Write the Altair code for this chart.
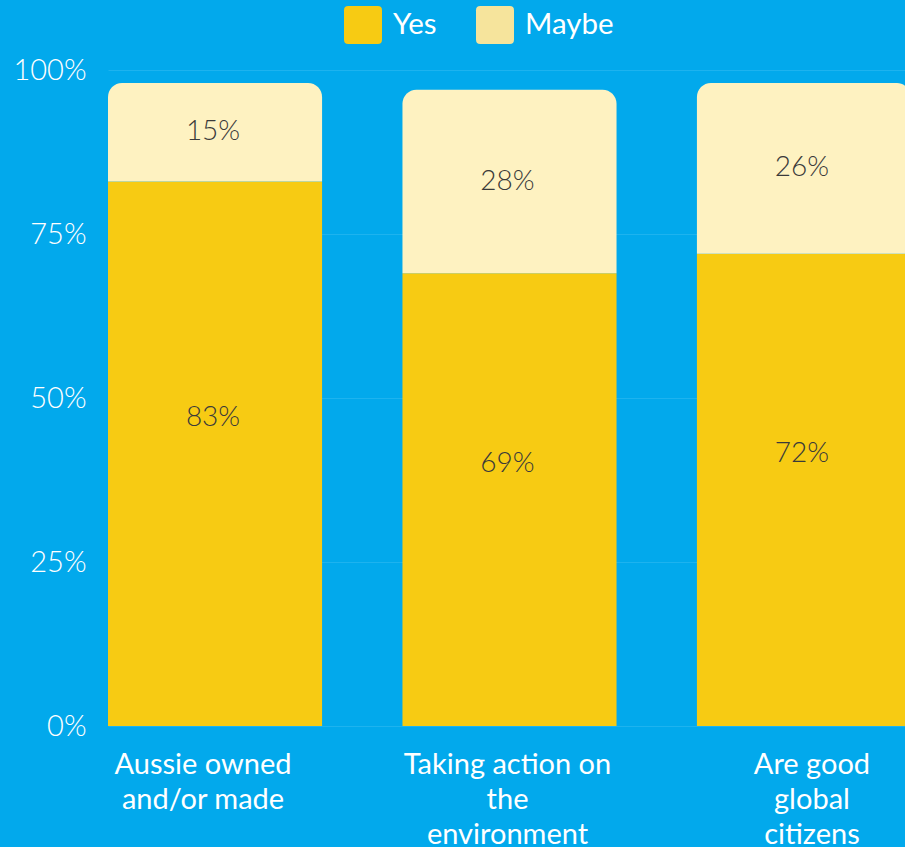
import altair as alt
import pandas as pd

categories = ["Aussie owned|and/or made", "Taking action on|the|environment", "Are good|global|citizens"]
yes_values = [83, 69, 72]
maybe_values = [15, 28, 26]
series_names = ["Yes", "Maybe"]
bar_colors = ["#F7CB13", "#FEF2C1"]
legend_colors = ["#F7CB13", "#F6E49C"]
y_ticks = [0, 25, 50, 75, 100]

rows = []
for c, y, m in zip(categories, yes_values, maybe_values):
    rows.append({"cat": c, "series": "Yes", "start": 0, "end": y, "val": y, "mid": y / 2 + 5.5})
    rows.append({"cat": c, "series": "Maybe", "start": y, "end": y + m, "val": m, "mid": y + m / 2})
df = pd.DataFrame(rows)

FONT = "Lato"
BG = "#02A9EC"

x_enc = alt.X(
    "cat:N",
    sort=categories,
    scale=alt.Scale(paddingInner=0.273, paddingOuter=0, range=[0, 803]),
    axis=alt.Axis(
        title=None, domain=False, ticks=False, labelAngle=0,
        labelExpr="split(datum.label, '|')",
        labelFont=FONT, labelFontSize=29, labelColor="white",
        labelLineHeight=35, labelPadding=24, labelBaseline="top",
        labelAlign="center", labelLimit=300,
        labelOffset=alt.ExprRef("(datum.index - 0.5) * 20 - 2"),
    ),
)
y_scale = alt.Scale(domain=[0, 100], nice=False)
y_axis = alt.Axis(
    title=None, domain=False, ticks=False, values=y_ticks,
    labelExpr="datum.value + '%'", labelFont=FONT, labelFontSize=29,
    labelFontWeight=300, labelColor="white", labelPadding=22,
    grid=True, gridColor="#1DB3EF", gridWidth=1,
)

base = alt.Chart(df)

color_bars = alt.Color("series:N", scale=alt.Scale(domain=series_names, range=bar_colors), legend=None)

yes_bars = base.transform_filter(alt.datum.series == "Yes").mark_bar().encode(
    x=x_enc,
    y=alt.Y("start:Q", scale=y_scale, axis=y_axis),
    y2="end:Q",
    color=color_bars,
)
maybe_bars = base.transform_filter(alt.datum.series == "Maybe").mark_bar(
    cornerRadiusTopLeft=14, cornerRadiusTopRight=14
).encode(
    x=x_enc,
    y=alt.Y("start:Q", scale=y_scale, axis=y_axis),
    y2="end:Q",
    color=color_bars,
)

labels = base.transform_calculate(txt="datum.val + '%'").mark_text(
    font=FONT, fontSize=28, fontWeight=300, color="#3A3A3A", baseline="middle", dx=-2
).encode(
    x=alt.X("cat:N", sort=categories),
    y=alt.Y("mid:Q", scale=y_scale),
    text="txt:N",
)

rounded = "M -0.78,-1 L 0.78,-1 Q 1,-1 1,-0.78 L 1,0.78 Q 1,1 0.78,1 L -0.78,1 Q -1,1 -1,0.78 L -1,-0.78 Q -1,-1 -0.78,-1 Z"

legend_layer = base.mark_bar().encode(
    x=alt.X("cat:N", sort=categories),
    y=alt.Y("start:Q", scale=y_scale),
    y2="start:Q",
    color=alt.Color(
        "series:N",
        scale=alt.Scale(domain=series_names, range=legend_colors),
        legend=alt.Legend(
            title=None, orient="none", direction="horizontal",
            legendX=236, legendY=-64,
            symbolType=rounded, symbolSize=1444, symbolStrokeWidth=0,
            symbolOpacity=1,
            labelFont=FONT, labelFontSize=29.5, labelColor="white",
            labelOffset=11, columnPadding=39, padding=0,
        ),
    ),
)

chart = alt.layer(yes_bars, maybe_bars, legend_layer, labels).resolve_scale(
    color="independent"
).properties(
    width=797, height=656,
    background=BG,
    padding={"left": 108, "top": 70, "right": 0, "bottom": 121},
    autosize=alt.AutoSizeParams(type="none"),
).configure_view(stroke=None)

chart.save("out.html", embed_options={"renderer": "svg", "actions": False})
